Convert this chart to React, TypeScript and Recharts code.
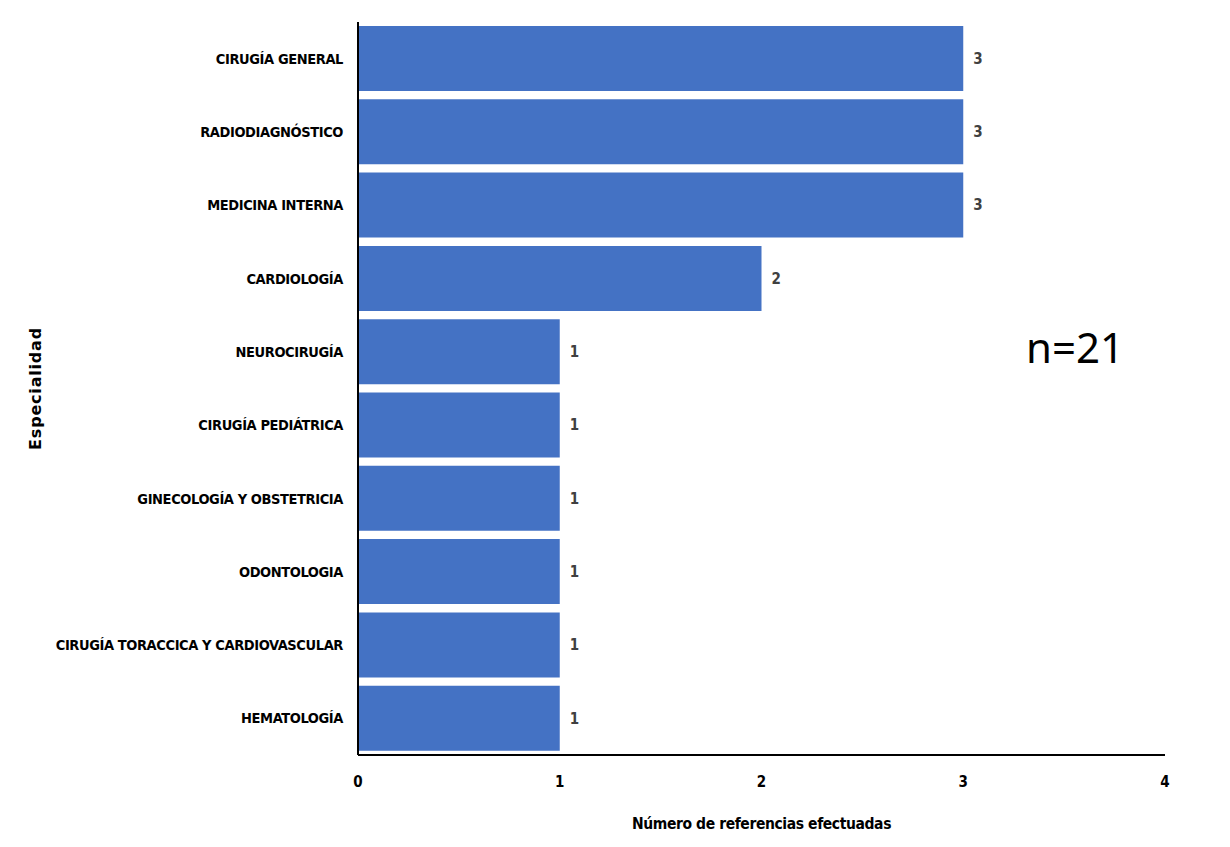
import { BarChart, Bar, XAxis, YAxis, LabelList, Label } from "recharts";

const especialidades = [
  "CIRUGÍA GENERAL",
  "RADIODIAGNÓSTICO",
  "MEDICINA INTERNA ",
  "CARDIOLOGÍA",
  "NEUROCIRUGÍA",
  "CIRUGÍA PEDIÁTRICA",
  "GINECOLOGÍA Y OBSTETRICIA",
  "ODONTOLOGIA",
  "CIRUGÍA TORACCICA Y CARDIOVASCULAR",
  "HEMATOLOGÍA",
];

const referencias = [3, 3, 3, 2, 1, 1, 1, 1, 1, 1];

const xTicks = [0, 1, 2, 3, 4];

const data = especialidades.map((nombre, i) => ({
  nombre,
  valor: referencias[i],
}));

const narrow = "'Liberation Sans Narrow', 'DejaVu Sans Condensed', Arial, sans-serif";

export default function App() {
  return (
    <div style={{ position: "absolute", left: 0, top: 0, width: 1230, height: 847, background: "#fff" }}>
      <BarChart
        width={1230}
        height={847}
        data={data}
        layout="vertical"
        barCategoryGap={4}
        margin={{ top: 22, right: 65, left: 0, bottom: 0 }}
      >
        <XAxis
          type="number"
          domain={[0, 4]}
          ticks={xTicks}
          height={92}
          tickLine={false}
          tickMargin={15}
          axisLine={{ stroke: "#000", strokeWidth: 2 }}
          tick={{ fill: "#000", fontFamily: narrow, fontWeight: 700, fontSize: 15 }}
        >
          <Label
            value="Número de referencias efectuadas"
            position="insideBottom"
            offset={18}
            style={{ fill: "#000", fontFamily: narrow, fontWeight: 700, fontSize: 15.5, letterSpacing: -0.4 }}
          />
        </XAxis>
        <YAxis
          type="category"
          dataKey="nombre"
          width={358}
          tickLine={false}
          tickMargin={9}
          axisLine={{ stroke: "#000", strokeWidth: 2 }}
          tick={{ fill: "#000", fontFamily: narrow, fontWeight: 700, fontSize: 14.5, letterSpacing: -0.4 }}
        >
          <Label
            value="Especialidad"
            angle={-90}
            position="insideLeft"
            offset={35}
            style={{ fill: "#000", fontFamily: "'DejaVu Sans', Arial, sans-serif", fontWeight: 700, fontSize: 16, letterSpacing: 0.8, textAnchor: "middle" }}
          />
        </YAxis>
        <Bar dataKey="valor" fill="#4472C4" isAnimationActive={false}>
          <LabelList
            dataKey="valor"
            position="right"
            offset={10}
            style={{ fill: "#404040", fontFamily: narrow, fontWeight: 700, fontSize: 15 }}
          />
        </Bar>
      </BarChart>
      <div
        style={{
          position: "absolute",
          left: 1026,
          top: 321,
          fontFamily: "'Noto Sans', 'Open Sans', sans-serif",
          fontSize: 42,
          lineHeight: "52px",
          color: "#000",
        }}
      >
        n=21
      </div>
    </div>
  );
}
